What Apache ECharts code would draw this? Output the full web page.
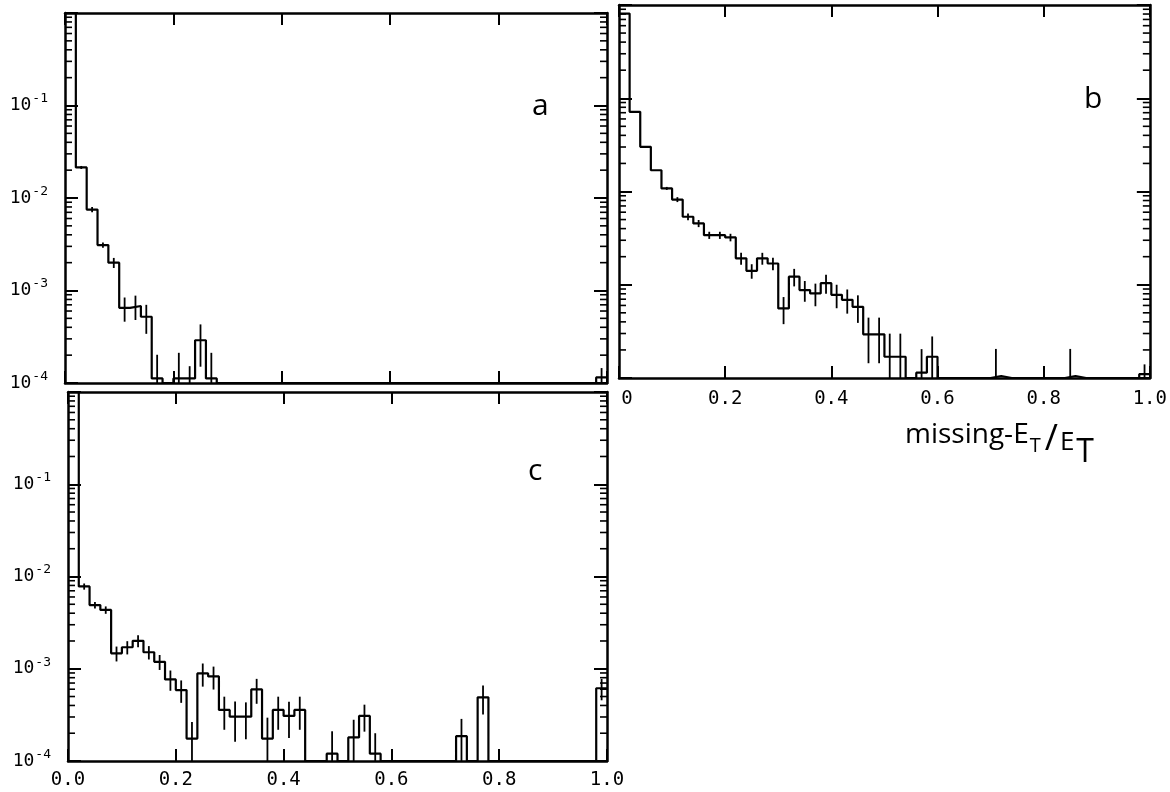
<!DOCTYPE html>
<html><head><meta charset="utf-8">
<script src="https://cdn.jsdelivr.net/npm/echarts@6/dist/echarts.min.js"></script>
<style>html,body{margin:0;padding:0;background:#fff}#c{width:1170px;height:792px}</style>
</head><body><div id="c"></div>
<script>
// bin edges of missing-ET/ET (width 0.02)
const binEdges = [0,0.02,0.04,0.06,0.08,0.10,0.12,0.14,0.16,0.18,0.20,0.22,0.24,0.26,0.28,0.30,0.32,0.34,0.36,0.38,0.40,
  0.42,0.44,0.46,0.48,0.50,0.52,0.54,0.56,0.58,0.60,0.62,0.64,0.66,0.68,0.70,0.72,0.74,0.76,0.78,0.80,
  0.82,0.84,0.86,0.88,0.90,0.92,0.94,0.96,0.98,1.00];

// panel a
const valuesA = [1.0,0.0214,0.0075,0.0031,0.0020,0.00065,0.00068,0.00052,0.000112,0.0001,
  0.000112,0.000112,0.00029,0.000112,0.0001,0.0001,0.0001,0.0001,0.0001,0.0001,
  0.0001,0.0001,0.0001,0.0001,0.0001,0.0001,0.0001,0.0001,0.0001,0.0001,
  0.0001,0.0001,0.0001,0.0001,0.0001,0.0001,0.0001,0.0001,0.0001,0.0001,
  0.0001,0.0001,0.0001,0.0001,0.0001,0.0001,0.0001,0.0001,0.0001,0.000115];
const errorsA = [0,0.0008,0.0005,0.0002,0.00025,0.00019,0.0002,0.00018,0.00009,0,
  0.0001,0.00004,0.00014,0.0001,0,0,0,0,0,0,
  0,0,0,0,0,0,0,0,0,0,
  0,0,0,0,0,0,0,0,0,0,
  0,0,0,0,0,0,0,0,0,0.00003];

// panel b
const valuesB = [0.81,0.0715,0.0301,0.0169,0.0108,0.0082,0.00536,0.00455,0.0034,0.0034,
  0.00322,0.00192,0.00141,0.00192,0.00169,0.000558,0.00122,0.000877,0.000808,0.00104,
  0.00078,0.00069,0.00058,0.000294,0.000294,0.000169,0.000169,0.0001,0.000114,0.000169,
  0.0001,0.0001,0.0001,0.0001,0.0001,0.000105,0.0001,0.0001,0.0001,0.0001,
  0.0001,0.0001,0.000105,0.0001,0.0001,0.0001,0.0001,0.0001,0.0001,0.00011];
const errorsB = [0,0,0,0,0.0004,0.0005,0.00045,0.0004,0.0003,0.0003,
  0.0003,0.00028,0.00025,0.00028,0.00026,0.00018,0.00026,0.00022,0.00022,0.00024,
  0.00022,0.0002,0.00019,0.00015,0.00015,0.00013,0.00013,0,0.00009,0.00011,
  0,0,0,0,0,0.0001,0,0,0,0,
  0,0,0.0001,0,0,0,0,0,0,0.00003];

// panel c
const valuesC = [1.0,0.0078,0.0049,0.00434,0.00147,0.00171,0.00201,0.00151,0.00119,0.000767,
  0.000587,0.000175,0.00089,0.000825,0.000358,0.000302,0.000302,0.000597,0.000175,0.000358,
  0.000308,0.000358,0.0001,0.0001,0.00012,0.0001,0.00018,0.000308,0.00012,0.0001,
  0.0001,0.0001,0.0001,0.0001,0.0001,0.0001,0.000186,0.0001,0.00049,0.0001,
  0.0001,0.0001,0.0001,0.0001,0.0001,0.0001,0.0001,0.0001,0.0001,0.000615];
const errorsC = [0,0.0006,0.0004,0.0004,0.00027,0.00028,0.0003,0.00025,0.00022,0.00019,
  0.00016,0.00009,0.00025,0.00023,0.00014,0.00014,0.00013,0.00018,0.00012,0.00014,
  0.00013,0.00014,0,0,0.00009,0,0.0001,0.0001,0.00008,0,
  0,0,0,0,0,0,0.0001,0,0.00017,0,
  0,0,0,0,0,0,0,0,0,0.00016];

// tick labels
const xTickLabelsB = ['0','0.2','0.4','0.6','0.8','1.0'];
const xTickLabelsC = ['0.0','0.2','0.4','0.6','0.8','1.0'];
const yTickValues = [1e-4,1e-3,1e-2,1e-1];
const yTickExponents = ['-4','-3','-2','-1'];
const yMinorTickValues = [2e-4,3e-4,4e-4,5e-4,6e-4,7e-4,8e-4,9e-4,
  2e-3,3e-3,4e-3,5e-3,6e-3,7e-3,8e-3,9e-3,
  0.02,0.03,0.04,0.05,0.06,0.07,0.08,0.09,
  0.2,0.3,0.4,0.5,0.6,0.7,0.8,0.9];
const panelLetters = ['a','b','c'];

const MONO = 'DejaVu Sans Mono';
const grids = [
  {left:65, top:13, width:542, height:370},
  {left:619, top:5, width:538, height:373},
  {left:68, top:392, width:539, height:369}
];

function xAx(g, position, labels, margin) {
  const ax = {type:'value', gridIndex:g, position, min:0, max:1, interval:0.2,
    axisLine:{show:true, onZero:false, lineStyle:{color:'#000', width:2.5}},
    axisTick:{show:true, inside:true, length:12, lineStyle:{color:'#000', width:2}},
    splitLine:{show:false},
    axisLabel:{show:false}};
  if (labels) {
    ax.axisLabel = {show:true, margin, color:'#000', fontFamily:MONO, fontSize:19,
      formatter: v => { const s = labels[Math.round(v/0.2)]; return s === '0' ? '{z|0}' : s; },
      rich:{z:{fontFamily:MONO, fontSize:19, color:'#000', padding:[0,0,0,16]}}};
  }
  return ax;
}
function yAx(g, position, showLabels) {
  const ax = {type:'log', logBase:10, gridIndex:g, position, min:1e-4, max:1,
    axisLine:{show:true, onZero:false, lineStyle:{color:'#000', width:2.5}},
    axisTick:{show:true, inside:true, length:13, lineStyle:{color:'#000', width:2}},
    minorTick:{show:false},
    splitLine:{show:false}, minorSplitLine:{show:false},
    axisLabel:{show:false}};
  if (showLabels) {
    ax.axisLabel = {show:true, margin:17, color:'#000',
      formatter: v => {
        const idx = yTickValues.findIndex(t => Math.abs(Math.log10(t) - Math.log10(v)) < 1e-6);
        return idx < 0 ? '' : '{b|10}{e|' + yTickExponents[idx] + '}';
      },
      rich:{
        b:{fontFamily:MONO, fontSize:18, color:'#000', lineHeight:26, verticalAlign:'middle'},
        e:{fontFamily:MONO, fontSize:13, color:'#000', lineHeight:26, verticalAlign:'top', padding:[0,0,0,1]}
      }};
  }
  return ax;
}

const xAxes = [
  xAx(0,'bottom',null), xAx(0,'top',null),
  xAx(1,'bottom',xTickLabelsB,12), xAx(1,'top',null),
  xAx(2,'bottom',xTickLabelsC,10), xAx(2,'top',null)
];
const yAxes = [
  yAx(0,'left',true), yAx(0,'right',false),
  yAx(1,'left',false), yAx(1,'right',false),
  yAx(2,'left',true), yAx(2,'right',false)
];

function histData(vals) {
  const d = vals.map((v,i) => [binEdges[i], v]);
  d.push([binEdges[binEdges.length-1], vals[vals.length-1]]);
  return d;
}
function errData(vals, errs) {
  return vals.map((v,i) => [(binEdges[i]+binEdges[i+1])/2, v, errs[i]]);
}
function renderErr(params, api) {
  const x = api.value(0), v = api.value(1), e = api.value(2);
  if (!e) return null;
  const lo = Math.max(v - e, 1e-4), hi = v + e;
  const p1 = api.coord([x, lo]), p2 = api.coord([x, hi]);
  return {type:'line', shape:{x1:p1[0], y1:p1[1], x2:p2[0], y2:p2[1]},
    style:{stroke:'#000', lineWidth:1.8}};
}
function renderMinor(params, api) {
  const v = api.value(1);
  const L = api.coord([0, v]), R = api.coord([1, v]);
  return {type:'group', children:[
    {type:'line', shape:{x1:L[0], y1:L[1], x2:L[0]+7, y2:L[1]}, style:{stroke:'#000', lineWidth:1.6}},
    {type:'line', shape:{x1:R[0]-7, y1:R[1], x2:R[0], y2:R[1]}, style:{stroke:'#000', lineWidth:1.6}}
  ]};
}

const panels = [[valuesA, errorsA], [valuesB, errorsB], [valuesC, errorsC]];
const series = [];
panels.forEach((p, i) => {
  series.push({type:'line', xAxisIndex:2*i, yAxisIndex:2*i, step:'end', data:histData(p[0]),
    symbol:'none', showSymbol:false, lineStyle:{color:'#000', width:2.2}, silent:true, z:3});
  series.push({type:'custom', xAxisIndex:2*i, yAxisIndex:2*i+1, data:errData(p[0], p[1]),
    renderItem:renderErr, silent:true, z:4});
  series.push({type:'custom', xAxisIndex:2*i+1, yAxisIndex:2*i+1, data:yMinorTickValues.map(v => [0, v]),
    renderItem:renderMinor, silent:true, z:5});
});

const chart = echarts.init(document.getElementById('c'), null, {renderer:'canvas'});
chart.setOption({
  animation:false,
  backgroundColor:'#fff',
  grid:grids,
  xAxis:xAxes,
  yAxis:yAxes,
  series,
  graphic:[
    {type:'text', left:532, top:91, style:{text:panelLetters[0], font:'30px "Open Sans"', fill:'#000'}},
    {type:'text', left:1084, top:84, style:{text:panelLetters[1], font:'30px "Open Sans"', fill:'#000'}},
    {type:'text', left:528, top:456, style:{text:panelLetters[2], font:'30px "Open Sans"', fill:'#000'}},
    {type:'text', left:905, top:415, style:{
      text:'{m|missing-E}{s|T}{sl|/}{e|E}{t|T}',
      rich:{
        m:{fontFamily:'Open Sans', fontSize:28, lineHeight:28, fill:'#000', verticalAlign:'top', padding:[6,0,0,0]},
        s:{fontFamily:'Open Sans', fontSize:20, lineHeight:20, fill:'#000', verticalAlign:'top', padding:[21,0,0,1]},
        sl:{fontFamily:'Open Sans', fontSize:36, lineHeight:36, fill:'#000', verticalAlign:'top', padding:[7,0,0,4]},
        e:{fontFamily:'Open Sans', fontSize:26, lineHeight:26, fill:'#000', verticalAlign:'top', padding:[15,0,0,2]},
        t:{fontFamily:'Open Sans', fontSize:32, lineHeight:32, fill:'#000', verticalAlign:'top', padding:[22,0,0,2]}
      }}}
  ]
});
</script></body></html>
